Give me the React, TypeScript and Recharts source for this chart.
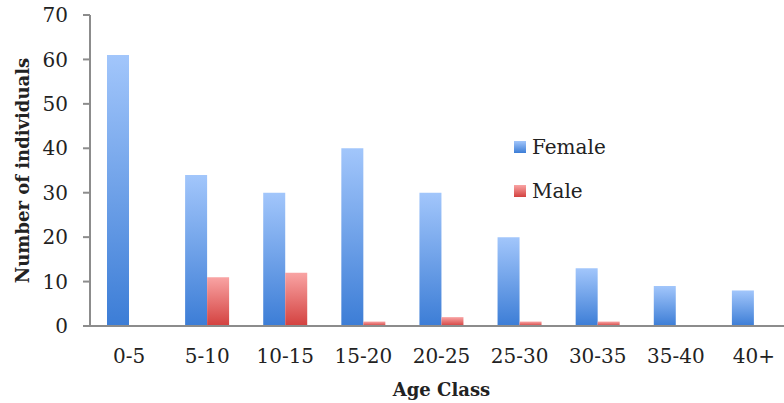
import { BarChart, Bar, XAxis, YAxis } from 'recharts';

const ageClasses = ['0-5', '5-10', '10-15', '15-20', '20-25', '25-30', '30-35', '35-40', '40+'];
const female = [61, 34, 30, 40, 30, 20, 13, 9, 8];
const male = [0, 11, 12, 1, 2, 1, 1, 0, 0];
const yTicks = [0, 10, 20, 30, 40, 50, 60, 70];

const data = ageClasses.map((age, i) => ({ age, Female: female[i], Male: male[i] }));

const FONT = '"DejaVu Serif", serif';
const AXIS = '#8c8c8c';

const legendItems = [
  { name: 'Female', grad: 'url(#gFemale)' },
  { name: 'Male', grad: 'url(#gMale)' },
];

// legend sits inside the plot, so it is drawn as an overlay rather than a Recharts Legend
function LegendBox() {
  return (
    <div style={{ position: 'absolute', left: 514, top: 125, fontFamily: FONT, fontSize: 20, color: '#222' }}>
      {legendItems.map(it => (
        <div key={it.name} style={{ display: 'flex', alignItems: 'center', height: 44 }}>
          <svg width={12} height={12} style={{ marginRight: 6 }}>
            <rect width={12} height={12} fill={it.grad} />
          </svg>
          <span>{it.name}</span>
        </div>
      ))}
    </div>
  );
}

function YLabel({ viewBox }: any) {
  const cx = viewBox.x + 22;
  const cy = viewBox.y + viewBox.height / 2;
  return (
    <text
      x={cx}
      y={cy}
      transform={`rotate(-90 ${cx} ${cy})`}
      textAnchor="middle"
      dominantBaseline="central"
      fontFamily={FONT}
      fontWeight="bold"
      fontSize={18}
      fill="#222"
    >
      Number of individuals
    </text>
  );
}

export default function App() {
  return (
    <div style={{ position: 'absolute', left: 0, top: 0, width: 784, height: 403, overflow: 'hidden', background: '#fff' }}>
      <BarChart
        width={800}
        height={403}
        data={data}
        margin={{ top: 15, right: 7, left: 0, bottom: 0 }}
        barGap={0}
      >
        <defs>
          <linearGradient id="gFemale" x1="0" y1="0" x2="0" y2="1">
            <stop offset="0%" stopColor="#a2c6fb" />
            <stop offset="100%" stopColor="#3c7dd6" />
          </linearGradient>
          <linearGradient id="gMale" x1="0" y1="0" x2="0" y2="1">
            <stop offset="0%" stopColor="#f9a4a4" />
            <stop offset="100%" stopColor="#d3413f" />
          </linearGradient>
        </defs>
        <XAxis
          dataKey="age"
          height={77}
          axisLine={{ stroke: AXIS, strokeWidth: 2 }}
          tickLine={false}
          tickSize={0}
          tickMargin={23}
          tick={{ fill: '#222', fontSize: 20, fontFamily: FONT }}
          interval={0}
          label={{
            value: 'Age Class',
            position: 'insideBottom',
            offset: 7,
            fill: '#222',
            fontSize: 18,
            fontWeight: 'bold',
            fontFamily: FONT,
          }}
        />
        <YAxis
          width={90}
          domain={[0, 70]}
          ticks={yTicks}
          interval={0}
          axisLine={{ stroke: AXIS, strokeWidth: 2 }}
          tickLine={{ stroke: AXIS, strokeWidth: 2 }}
          tickSize={7}
          tickMargin={15}
          tick={{ fill: '#222', fontSize: 20, fontFamily: FONT }}
          label={<YLabel />}
        />
        <Bar dataKey="Female" fill="url(#gFemale)" barSize={22} isAnimationActive={false} />
        <Bar dataKey="Male" fill="url(#gMale)" barSize={22} isAnimationActive={false} />
      </BarChart>
      <LegendBox />
    </div>
  );
}
